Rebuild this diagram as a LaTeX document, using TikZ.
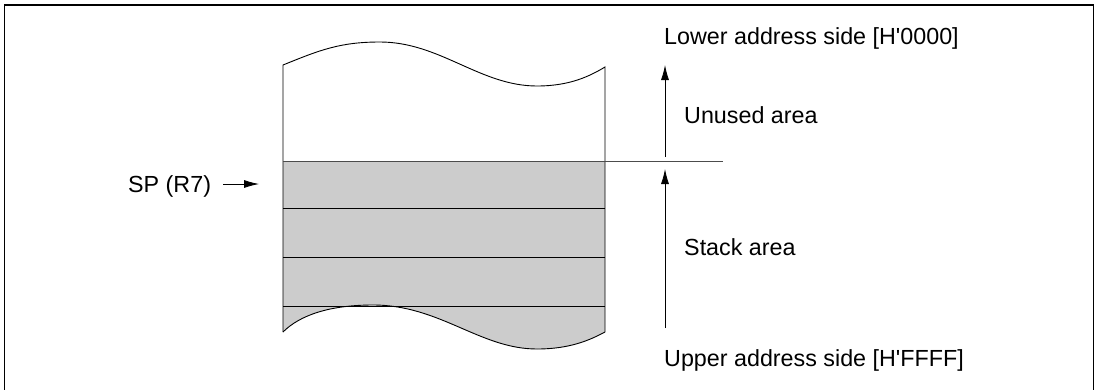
\documentclass[tikz,border=0pt]{standalone}
\usepackage{fontspec}
\setmainfont{Liberation Sans}[Ligatures=TeXOff]
\usetikzlibrary{arrows.meta}
\definecolor{stackgray}{HTML}{CCCCCC}
\begin{document}
\begin{tikzpicture}[x=1pt,y=-1pt,
  lbl/.style={font=\fontsize{23.3}{27}\selectfont, inner sep=0pt, anchor=base west},
  arr/.style={-{Latex[length=15pt,width=8pt]}, line width=0.8pt},
  thin/.style={line width=0.9pt}]
\useasboundingbox (0,0) rectangle (1100,389);
% frame
\draw[line width=1.2pt] (4.5,392) -- (4.5,5) -- (1093.5,5) -- (1093.5,392);
% gray stack area
\fill[stackgray] (283,161) -- (605,161) -- (605,332)
  .. controls (590,340) and (570,349) .. (537,349)
  .. controls (480,349) and (440,305) .. (373,305)
  .. controls (330,305) and (300,315) .. (283,332) -- cycle;
% outline
\draw[thin] (605,332) -- (605,67)
  .. controls (590,76) and (570,86) .. (537,86)
  .. controls (480,86) and (440,42) .. (380,42)
  .. controls (340,42) and (320,50) .. (283,65) -- (283,332);
\draw[thin] (283,332)
  .. controls (300,315) and (330,305) .. (373,305)
  .. controls (440,305) and (480,349) .. (537,349)
  .. controls (570,349) and (590,340) .. (605,332);
\draw[thin] (283,208) -- (605,208);
\draw[thin] (283,257) -- (605,257);
\draw[thin] (283,306) -- (605,306);
\draw[line width=0.9pt, black!70] (283,161) -- (723,161);
% labels
\node[lbl] (lower) at (664,44) {Lower address side [H'0000]};
\node[lbl] (unused) at (684,123) {Unused area};
\node[lbl] (stack) at (684,255) {Stack area};
\node[lbl] (upper) at (664,366) {Upper address side [H'FFFF]};
\node[lbl] (sp) at (128,192) {SP (R7)};
% arrows
\coordinate (ua0) at (665,157);
\coordinate (ua1) at (665,65);
\coordinate (la0) at (665,328);
\coordinate (la1) at (665,169);
\coordinate (sp0) at (223,184);
\coordinate (sp1) at (259,184);
\draw[arr] (ua0) -- (ua1);
\draw[arr] (la0) -- (la1);
\draw[arr] (sp0) -- (sp1);
\end{tikzpicture}
\end{document}
